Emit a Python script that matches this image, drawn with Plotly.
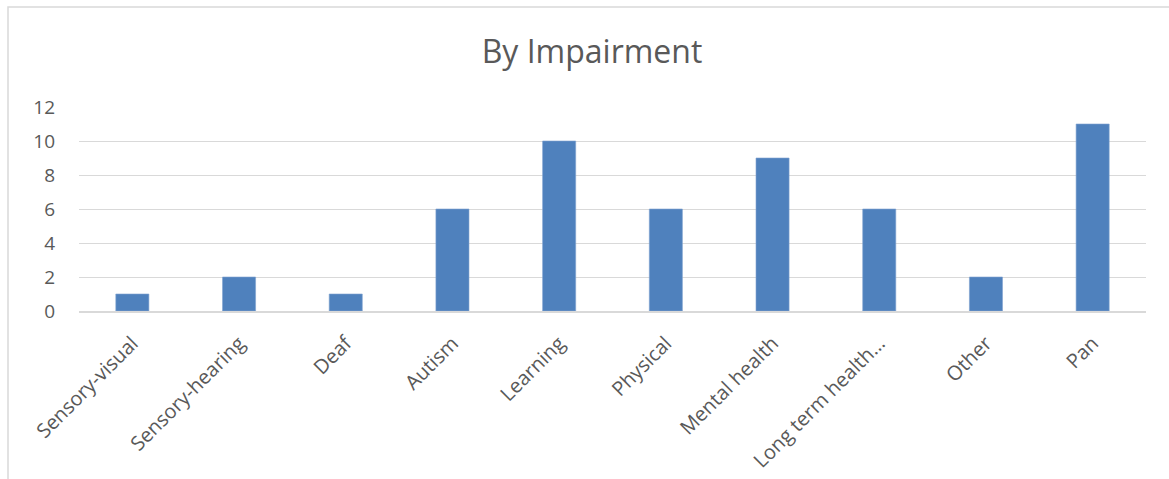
import plotly.graph_objects as go

categories = ["Sensory-visual", "Sensory-hearing", "Deaf", "Autism", "Learning",
              "Physical", "Mental health", "Long term health…", "Other", "Pan"]
values = [1, 2, 1, 6, 10, 6, 9, 6, 2, 11]
y_ticks = [0, 2, 4, 6, 8, 10, 12]

W, H = 1169, 479
L, R, T, B = 79, 23, 107, 168
pw = W - L - R
ph = H - T - B

fig = go.Figure(go.Bar(
    x=categories, y=values,
    marker=dict(color="#4F81BD", line=dict(color="#7FA2D0", width=0.6)),
    width=0.31,
))

fig.update_layout(
    width=W, height=H,
    margin=dict(l=L, r=R, t=T, b=B, autoexpand=False),
    paper_bgcolor="white", plot_bgcolor="white",
    font=dict(family="Open Sans, Liberation Sans, sans-serif", color="#595959"),
    title=dict(text="By Impairment", x=592 / W, xanchor="center",
               y=1 - 52 / H, yanchor="middle", yref="container",
               font=dict(size=32, color="#595959")),
    showlegend=False,
    bargap=0.69,
)
fig.update_xaxes(
    tickangle=-45, tickfont=dict(size=20, color="#595959"),
    showgrid=False, showline=True, linecolor="#D9D9D9", linewidth=1.5,
    ticks="outside", ticklen=11, tickcolor="rgba(0,0,0,0)",
)
fig.update_yaxes(
    range=[0, 12], tickvals=y_ticks, tickfont=dict(size=19, color="#595959"),
    showgrid=True, gridcolor="#D9D9D9", gridwidth=1.3,
    zeroline=False, showline=False, ticks="", ticklabelstandoff=23,
)
# chart frame (left and top edges visible)
fig.add_shape(type="rect", xref="paper", yref="paper",
              x0=(8 - L) / pw, x1=(W + 20 - L) / pw,
              y0=(H - B - (H + 20)) / ph, y1=(H - B - 7) / ph,
              line=dict(color="#D9D9D9", width=1.5), layer="below")

fig.write_html("out.html")
